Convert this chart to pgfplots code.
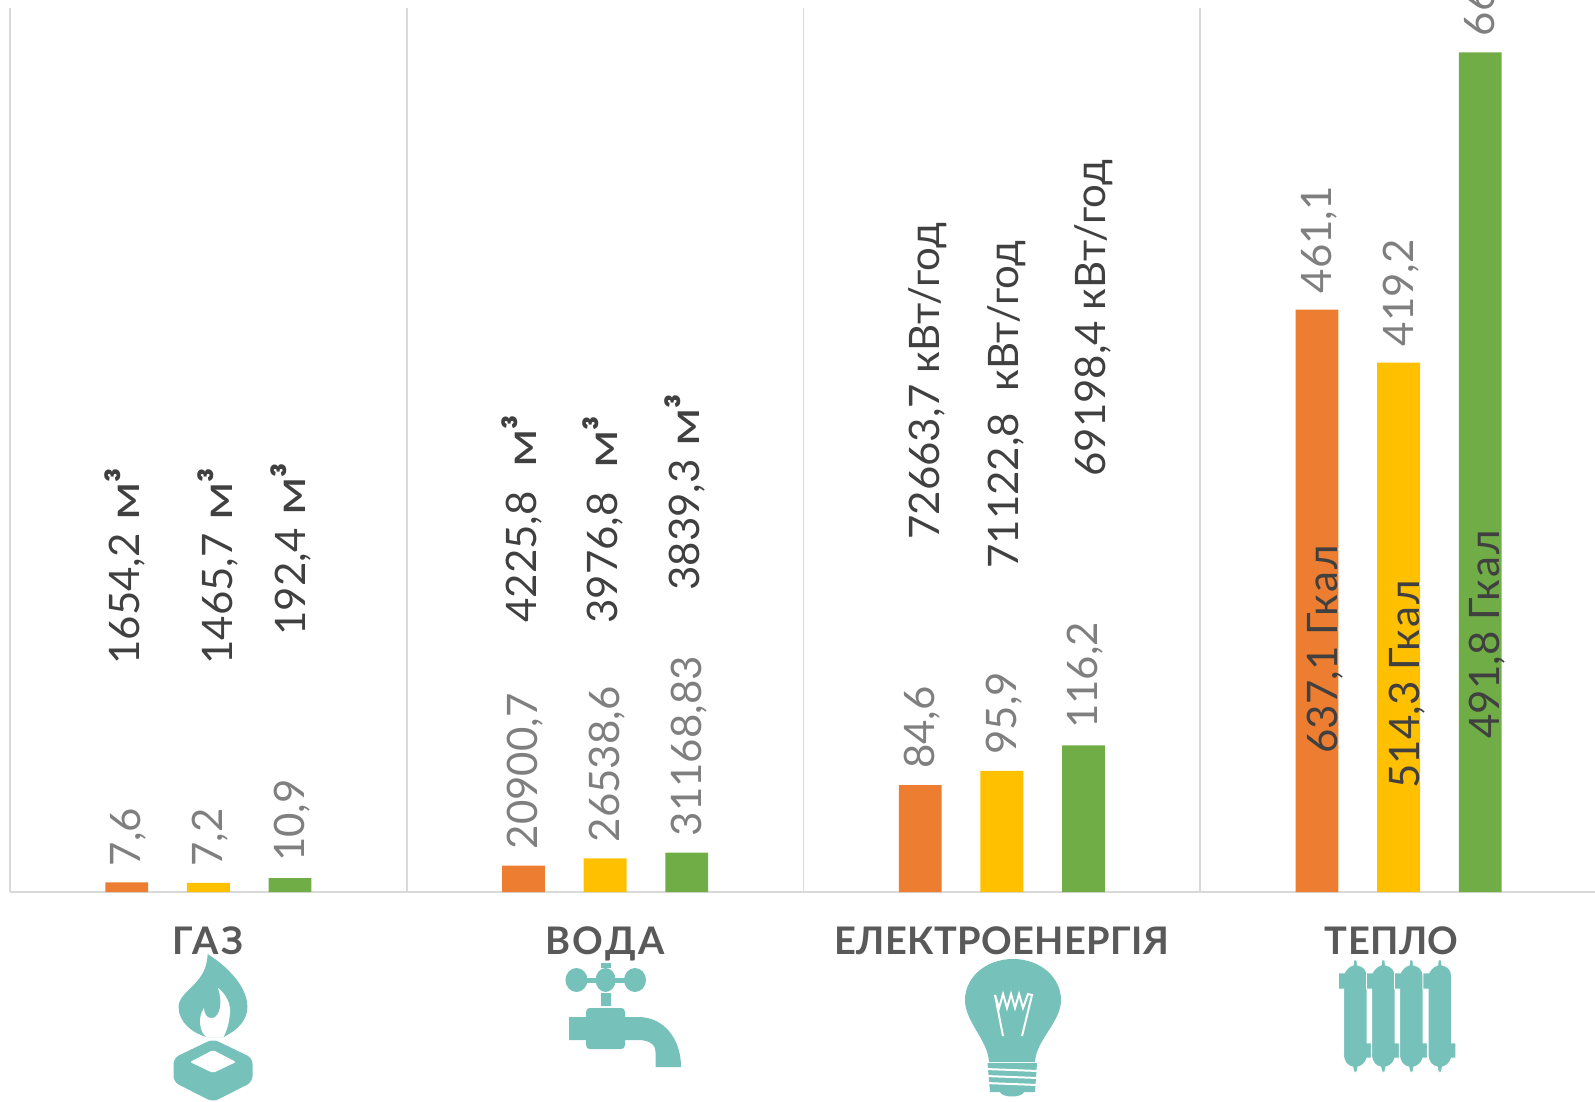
\documentclass[border=0pt]{standalone}
\usepackage{fontspec}
\usepackage{pgfplots}
\pgfplotsset{compat=1.18}
\setmainfont{Lato}[BoldFont=* Black]
\newfontfamily\catfont{Lato}[UprightFont=* Bold]
\newcommand{\ls}[2]{{\addfontfeature{LetterSpace=#1}#2}}
\definecolor{cOrange}{HTML}{ED7D31}
\definecolor{cYellow}{HTML}{FFC000}
\definecolor{cGreen}{HTML}{70AD47}
\definecolor{cGrid}{HTML}{D9D9D9}
\definecolor{cGrey}{HTML}{7F7F7F}
\definecolor{cDark}{HTML}{404040}
\definecolor{cCat}{HTML}{595959}
\definecolor{cIcon}{HTML}{76C2BA}
\newcommand{\pxl}[3]{\node[rotate=90,anchor=base west,inner sep=0pt,text=cDark,font=\fontsize{21}{25}\selectfont] at (#1,#2) {#3};}
\newcommand{\cub}{\hspace{1pt}\scalebox{1.3}[1]{м}\textbf{³}}
\begin{document}
\begin{tikzpicture}
\path[use as bounding box] (0pt,0pt) rectangle (797.5pt,-551pt);
\clip (0pt,0pt) rectangle (797.5pt,-551pt);
\begin{axis}[
  at={(5pt,-4pt)}, anchor=north west,
  scale only axis, width=793.5pt, height=442pt,
  xmin=-0.5, xmax=3.5, ymin=0, ymax=700,
  clip=false,
  axis x line=bottom, axis y line=none,
  axis line style={draw=cGrid,line width=1.2pt,-},
  ybar=19.45pt, bar width=21.4pt,
  xtick={0,1,2,3},
  xticklabels={\ls{7}{ГАЗ},\ls{6.5}{ВОДА},\ls{1}{ЕЛЕКТРОЕНЕРГІЯ},\hspace*{-7pt}\ls{1}{ТЕПЛО}},
  xticklabel style={anchor=base,yshift=-31pt,text=cCat,font=\fontsize{19}{22}\catfont},
  minor xtick={-0.5,0.5,1.5,2.5,3.5},
  xminorgrids=true,
  minor grid style={draw=cGrid,line width=0.9pt},
  major tick length=0pt, minor tick length=0pt,
  ytick=\empty,
  point meta=explicit symbolic,
  nodes near coords,
  every node near coord/.append style={yshift=8pt,xshift=1pt,rotate=90,anchor=west,inner sep=0pt,text=cGrey,font=\fontsize{21}{25}\selectfont},
]
\addplot[fill=cOrange,draw=none] coordinates {(0,7.6)[7,6] (1,20.9007)[20900,7] (2,84.6)[84,6] (3,461.1)[461,1]};
\addplot[fill=cYellow,draw=none] coordinates {(0,7.2)[7,2] (1,26.5386)[26538,6] (2,95.9)[95,9] (3,419.2)[419,2]};
\addplot[fill=cGreen,draw=none] coordinates {(0,10.9)[10,9] (1,31.16883)[31168,83] (2,116.2)[116,2] (3,664.8)[664,8]};
\end{axis}
\begin{scope}[x=0.5pt,y=-0.5pt]
\pxl{139}{665}{1654,2 \cub}
\pxl{232}{665}{1465,7 \cub}
\pxl{305}{636}{192,4 \cub}
\pxl{536}{623}{4225,8\ \ \cub}
\pxl{617}{624}{3976,8\ \ \cub}
\pxl{699}{591}{3839,3 \cub}
\pxl{939}{540}{72663,7 кВт/год}
\pxl{1018}{569}{71122,8\ \ кВт/год}
\pxl{1105}{477}{69198,4 кВт/год}
\pxl{1337}{754}{637,1 \ls{5}{Гкал}}
\pxl{1419}{789}{514,3 \ls{5}{Гкал}}
\pxl{1499}{739}{491,8 \ls{5}{Гкал}}
% gas icon
\fill[cIcon] (207.6,954) .. controls (207,985) and (178.6,990) .. (178.6,1007) .. controls (178.6,1022) and (192,1033) .. (206.6,1037)
  -- (223.5,1037) .. controls (238,1030) and (247.4,1020) .. (247.4,1007) .. controls (247.4,985) and (225,965) .. (207.6,954) -- cycle;
\fill[white] (218,988) .. controls (226,994) and (231,1004) .. (230,1013) .. controls (229,1025) and (226,1032) .. (223.5,1037) -- (206.6,1037)
  .. controls (200,1033) and (197,1018) .. (204,1008) .. controls (204,1015) and (208,1019) .. (212.8,1018) .. controls (220,1016) and (223,1003) .. (218,988) -- cycle;
\fill[cIcon,rounded corners=3pt] (213,1039) -- (252.5,1058) -- (252.5,1082) -- (213,1102) -- (173.5,1082) -- (173.5,1058) -- cycle;
\fill[white,rounded corners=1pt] (213,1050) -- (236,1062) -- (213,1073) -- (190,1062) -- cycle;
% tap icon
\fill[cIcon] (576.5,980) ellipse [x radius=11,y radius=12];
\fill[cIcon] (605.6,980) ellipse [x radius=10,y radius=12];
\fill[cIcon] (635,980) ellipse [x radius=11,y radius=12];
\fill[cIcon] (580,977.5) rectangle (632,982.5);
\fill[cIcon] (600.5,963) rectangle (611,968);
\fill[cIcon] (600.5,993) rectangle (611,1006);
\fill[cIcon] (569,1017) -- (586,1017) -- (586,1012) .. controls (586,1009) and (588,1008) .. (590,1008) -- (621,1008) .. controls (623,1008) and (625,1009) .. (625,1012) -- (625,1017) -- (638,1017)
  .. controls (665,1017) and (681,1040) .. (681,1067) -- (655.6,1067) -- (655.6,1052) .. controls (655.6,1045) and (650,1040) .. (638,1040) -- (625,1040) -- (625,1045) .. controls (625,1048) and (623,1049) .. (621,1049) -- (590,1049) .. controls (588,1049) and (586,1048) .. (586,1045) -- (586,1040) -- (569,1040) -- cycle;
% bulb icon
\fill[cIcon] (1013,959) .. controls (985,959) and (965,978) .. (965,1000) .. controls (965,1022) and (988,1040) .. (989,1062) -- (1035,1062) .. controls (1036,1040) and (1061,1022) .. (1061,1000) .. controls (1061,978) and (1041,959) .. (1013,959) -- cycle;
\draw[white,line width=1pt] (1003,1036) -- (995,995) -- (999,1008) -- (1003,994) -- (1007,1008) -- (1011,994) -- (1015,1008) -- (1019,994) -- (1023,1008) -- (1028,994) -- (1032,995) -- (1022,1036);
\fill[cIcon] (987.5,1063) -- (1037,1063) -- (1035,1092) -- (1024,1092) .. controls (1022,1098) and (1002,1098) .. (1000,1092) -- (990,1092) -- cycle;
\draw[white,line width=1pt] (986,1069) -- (1038,1071);
\draw[white,line width=1pt] (986,1076) -- (1038,1078);
\draw[white,line width=1pt] (986,1083) -- (1038,1085);
% radiator icon
\foreach \cx in {1355.3,1383.3,1411.3,1439.8}{
  \fill[cIcon,draw=white,line width=0.4pt] (\cx-1.5,960) -- (\cx+1.5,960) -- (\cx+2,965) .. controls (\cx+8,966) and (\cx+11.7,970) .. (\cx+11.7,976) -- (\cx+11.7,1043) -- (\cx+16,1043) -- (\cx+16,1058) -- (\cx+11.7,1058)
    .. controls (\cx+10,1064) and (\cx+6,1066) .. (\cx+2.5,1067) -- (\cx+1.5,1072) -- (\cx-1.5,1072) -- (\cx-2.5,1067) .. controls (\cx-8,1066) and (\cx-11.7,1062) .. (\cx-11.7,1054) -- (\cx-11.7,989) -- (\cx-16.8,989) -- (\cx-16.8,973) -- (\cx-11,973) .. controls (\cx-9,969) and (\cx-6,966) .. (\cx-2,965) -- cycle;
}
\end{scope}
\end{tikzpicture}
\end{document}
